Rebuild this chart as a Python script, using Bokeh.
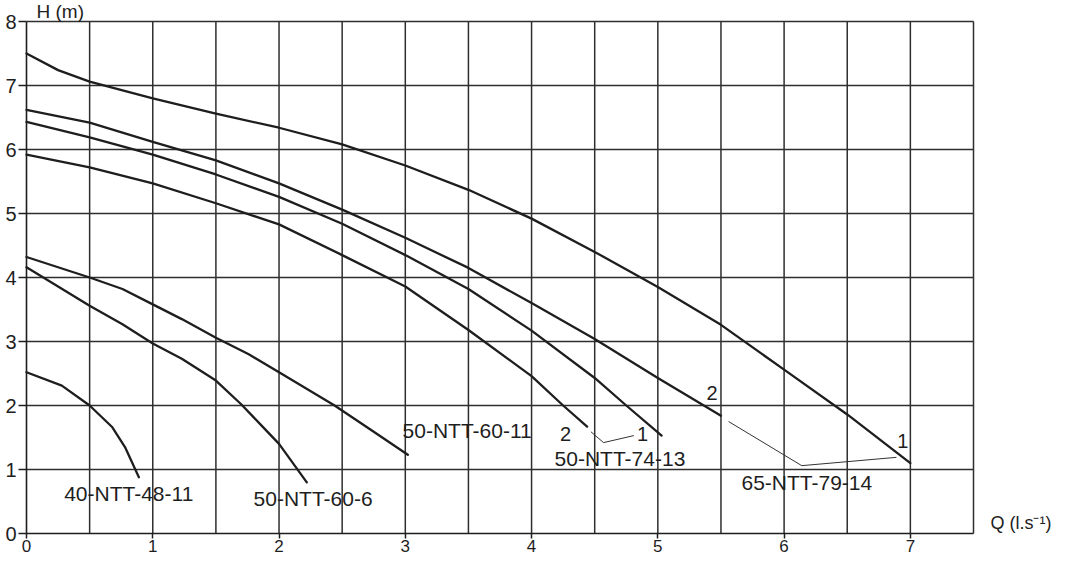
from bokeh.plotting import figure
from bokeh.models import Range1d, FixedTicker, Label, LabelSet, ColumnDataSource
from bokeh.core.properties import value
from bokeh.embed import file_html
from bokeh.resources import INLINE

# ---- axes / ticks ----
X_TICKS = [0, 1, 2, 3, 4, 5, 6, 7]
Y_TICKS = [0, 1, 2, 3, 4, 5, 6, 7, 8]
X_GRID = [0.5, 1, 1.5, 2, 2.5, 3, 3.5, 4, 4.5, 5, 5.5, 6, 6.5, 7, 7.5]
Y_GRID = [1, 2, 3, 4, 5, 6, 7, 8]
Q_MAX = 7.5
H_MAX = 8
X_LABEL = "Q (l.s\u207b\u00b9)"
Y_LABEL = "H (m)"

# ---- pump curves (Q in l/s, H in m) ----
q_65_79_14_1 = [0, 0.25, 0.5, 1, 1.5, 2, 2.5, 3, 3.5, 4, 4.5, 5, 5.5, 6, 6.5, 7.0]
h_65_79_14_1 = [7.50, 7.24, 7.06, 6.80, 6.56, 6.34, 6.08, 5.75, 5.37, 4.92, 4.40, 3.85, 3.26, 2.56, 1.86, 1.10]

q_65_79_14_2 = [0, 0.5, 1, 1.5, 2, 2.5, 3, 3.5, 4, 4.5, 5, 5.5]
h_65_79_14_2 = [6.62, 6.42, 6.12, 5.83, 5.47, 5.06, 4.62, 4.15, 3.60, 3.04, 2.43, 1.84]

q_50_74_13_1 = [0, 0.5, 1, 1.5, 2, 2.5, 3, 3.5, 4, 4.5, 4.75, 5.03]
h_50_74_13_1 = [6.43, 6.19, 5.92, 5.61, 5.26, 4.84, 4.35, 3.82, 3.17, 2.43, 2.00, 1.53]

q_50_74_13_2 = [0, 0.5, 1, 1.5, 2, 2.5, 3, 3.5, 4, 4.25, 4.44]
h_50_74_13_2 = [5.92, 5.72, 5.47, 5.16, 4.83, 4.35, 3.86, 3.18, 2.46, 2.00, 1.67]

q_50_60_11 = [0, 0.5, 0.76, 1, 1.23, 1.5, 1.76, 2, 2.44, 2.75, 3.02]
h_50_60_11 = [4.32, 4.00, 3.82, 3.58, 3.35, 3.06, 2.80, 2.52, 2.00, 1.59, 1.23]

q_50_60_6 = [0, 0.5, 0.76, 1, 1.23, 1.5, 1.7, 1.86, 2, 2.22]
h_50_60_6 = [4.16, 3.56, 3.27, 2.97, 2.73, 2.39, 2.02, 1.69, 1.40, 0.80]

q_40_48_11 = [0, 0.28, 0.5, 0.68, 0.78, 0.89]
h_40_48_11 = [2.52, 2.31, 2.00, 1.66, 1.35, 0.88]

CURVES = [
    (q_65_79_14_1, h_65_79_14_1),
    (q_65_79_14_2, h_65_79_14_2),
    (q_50_74_13_1, h_50_74_13_1),
    (q_50_74_13_2, h_50_74_13_2),
    (q_50_60_11, h_50_60_11),
    (q_50_60_6, h_50_60_6),
    (q_40_48_11, h_40_48_11),
]

# ---- leader lines ----
lead_74_13_q = [4.47, 4.57, 4.81]
lead_74_13_h = [1.59, 1.42, 1.53]
lead_79_14_q = [5.56, 6.14, 6.89]
lead_79_14_h = [1.75, 1.06, 1.19]

# ---- annotations ----
model_text = ["40-NTT-48-11", "50-NTT-60-6", "50-NTT-60-11", "50-NTT-74-13", "65-NTT-79-14"]
model_q = [0.81, 2.27, 3.49, 4.70, 6.18]
model_h = [0.62, 0.55, 1.61, 1.17, 0.80]

marker_text = ["2", "1", "2", "1"]
marker_q = [4.27, 4.88, 5.43, 6.94]
marker_h = [1.56, 1.56, 2.19, 1.45]

FONT = "Liberation Sans"
INK = "#1e1e1e"
GRID = "#2e2e2e"

# ---- layout (pixels inside the canvas) ----
W, H = 1054, 559
PLOT_L, PLOT_R, PLOT_T, PLOT_B = 26, 973, 21, 533
sx = (PLOT_R - PLOT_L) / Q_MAX
sy = (PLOT_B - PLOT_T) / H_MAX
x_range = Range1d(-PLOT_L / sx, Q_MAX + (W - PLOT_R) / sx)
y_range = Range1d(-(H - PLOT_B) / sy, H_MAX + PLOT_T / sy)

p = figure(width=W, height=H, x_range=x_range, y_range=y_range,
           output_backend="svg", toolbar_location=None,
           min_border=0, min_border_left=0, min_border_right=0,
           min_border_top=0, min_border_bottom=0)
p.background_fill_color = "white"
p.border_fill_color = "white"
p.outline_line_color = None
p.xgrid.visible = False
p.ygrid.visible = False

# grid lines (bounded to plot area)
p.segment(x0=X_GRID, y0=[0] * len(X_GRID), x1=X_GRID, y1=[H_MAX] * len(X_GRID),
          line_color=GRID, line_width=1.5)
p.segment(x0=[0] * len(Y_GRID), y0=Y_GRID, x1=[Q_MAX] * len(Y_GRID), y1=Y_GRID,
          line_color=GRID, line_width=1.5)

# y axis
ya = p.yaxis[0]
ya.fixed_location = 0
ya.bounds = (0, H_MAX)
ya.ticker = FixedTicker(ticks=Y_TICKS)
ya.major_tick_out = 8
ya.major_tick_in = 0
ya.minor_tick_out = 0
ya.minor_tick_in = 0
ya.major_tick_line_color = INK
ya.major_tick_line_width = 1.5
ya.axis_line_color = INK
ya.axis_line_width = 1.6
ya.major_label_standoff = 2
ya.major_label_text_font = FONT
ya.major_label_text_font_size = "20px"
ya.major_label_text_color = INK

# x axis
xa = p.xaxis[0]
xa.fixed_location = 0
xa.bounds = (0, Q_MAX)
xa.ticker = FixedTicker(ticks=X_TICKS)
xa.major_tick_out = 5
xa.major_tick_in = 0
xa.minor_tick_out = 0
xa.minor_tick_in = 0
xa.major_tick_line_color = INK
xa.major_tick_line_width = 1.5
xa.axis_line_color = INK
xa.axis_line_width = 1.6
xa.major_label_standoff = 1
xa.major_label_text_font = FONT
xa.major_label_text_font_size = "17px"
xa.major_label_text_color = INK

# curves
for q, h in CURVES:
    p.line(q, h, line_color=INK, line_width=2.3, line_join="round", line_cap="round")

# leader lines
p.line(lead_74_13_q, lead_74_13_h, line_color="#333333", line_width=1.0)
p.line(lead_79_14_q, lead_79_14_h, line_color="#333333", line_width=1.0)

# curve labels
model_src = ColumnDataSource(dict(x=model_q, y=model_h, text=model_text))
p.add_layout(LabelSet(x="x", y="y", text="text", source=model_src,
                      text_align="center", text_baseline="middle",
                      text_font=value(FONT), text_font_size=value("21px"),
                      text_color=INK))
marker_src = ColumnDataSource(dict(x=marker_q, y=marker_h, text=marker_text))
p.add_layout(LabelSet(x="x", y="y", text="text", source=marker_src,
                      text_align="center", text_baseline="middle",
                      text_font=value(FONT), text_font_size=value("20px"),
                      text_color=INK))

# axis titles
p.add_layout(Label(x=0, y=H_MAX, x_offset=10, y_offset=10, text=Y_LABEL,
                   text_align="left", text_baseline="middle",
                   text_font=FONT, text_font_size="19px", text_color=INK))
p.add_layout(Label(x=Q_MAX, y=0, x_offset=17, y_offset=11, text=X_LABEL,
                   text_align="left", text_baseline="middle",
                   text_font=FONT, text_font_size="18px", text_color=INK))

open("out.html", "w").write(file_html(p, INLINE))
